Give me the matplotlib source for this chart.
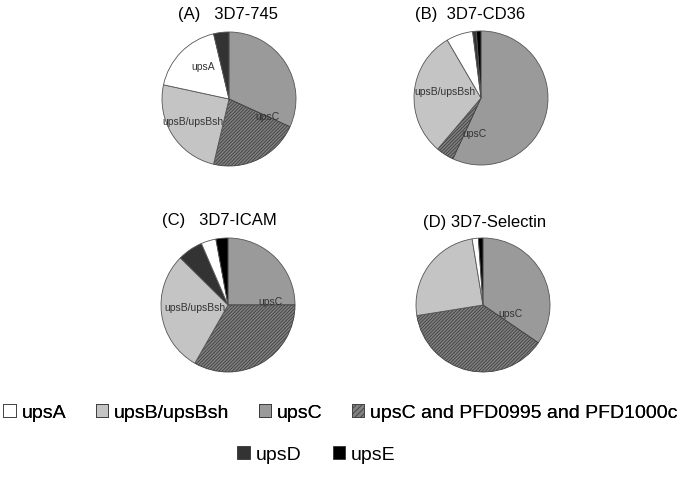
import numpy as np
import matplotlib.pyplot as plt
from matplotlib.patches import Patch

plt.rcParams['font.family'] = ['Liberation Sans', 'DejaVu Sans']
plt.rcParams['hatch.linewidth'] = 0.6

categories = ['upsA', 'upsB/upsBsh', 'upsC', 'upsC and PFD0995 and PFD1000c', 'upsD', 'upsE']
cat_colors = ['#ffffff', '#c4c4c4', '#9a9a9a', '#808080', '#333333', '#000000']

titles = ['(A)   3D7-745', '(B)  3D7-CD36', '(C)   3D7-ICAM', '(D) 3D7-Selectin']

# percentages per category (same order as categories)
vals_A = [17.9, 24.7, 31.8, 21.9, 3.7, 0.0]
vals_B = [6.4, 30.4, 56.9, 4.3, 0.9, 1.1]
vals_C = [3.6, 29.2, 25.0, 33.3, 6.1, 2.9]
vals_D = [1.5, 24.9, 34.5, 37.9, 0.0, 1.1]

# clockwise drawing order (index into categories), starting at 12 o'clock
order_A = [2, 3, 1, 0, 4, 5]
order_B = [2, 3, 1, 0, 4, 5]
order_C = [2, 3, 1, 4, 0, 5]
order_D = [2, 3, 1, 0, 4, 5]

# in-slice labels: (text, compass angle, radius)
labels_A = [('upsA', 321, 0.62), ('upsB/upsBsh', 237, 0.64), ('upsC', 115, 0.64)]
labels_B = [('upsB/upsBsh', 280, 0.55), ('upsC', 191, 0.54)]
labels_C = [('upsC', 86, 0.64), ('upsB/upsBsh', 265, 0.50)]
labels_D = [('upsC', 108, 0.43)]

W, H = 685, 486
centers = [(229, 99), (481, 98), (228, 305), (483, 305)]
title_pos = [(228, 15), (470, 15), (219, 220), (485, 222)]
R = 67

fig = plt.figure(figsize=(6.85, 4.86), dpi=100)

pies = [(vals_A, order_A, labels_A), (vals_B, order_B, labels_B),
        (vals_C, order_C, labels_C), (vals_D, order_D, labels_D)]

for (vals, order, labs), (cx, cy), (tx, ty), title in zip(pies, centers, title_pos, titles):
    half = R * 1.25
    ax = fig.add_axes([(cx - half) / W, 1 - (cy + half) / H, 2 * half / W, 2 * half / H])
    idx = [i for i in order if vals[i] > 0]
    wedges, _ = ax.pie([vals[i] for i in idx], colors=[cat_colors[i] for i in idx],
                       startangle=90, counterclock=False,
                       wedgeprops=dict(edgecolor='#555555', linewidth=0.6))
    for w, i in zip(wedges, idx):
        if i == 3:
            w.set_hatch('//////////')
            w.set_edgecolor('#404040')
    ax.set_xlim(-1.25, 1.25)
    ax.set_ylim(-1.25, 1.25)
    for text, ang, r in labs:
        t = np.deg2rad(ang)
        ax.text(r * np.sin(t), r * np.cos(t), text, ha='center', va='center',
                fontsize=7.5, color='#333333')
    fig.text(tx / W, 1 - ty / H, title, ha='center', va='center', fontsize=12)

handles = []
for i, c in enumerate(categories):
    if i == 3:
        handles.append(Patch(facecolor=cat_colors[i], edgecolor='#404040', hatch='//////', linewidth=0.6))
    else:
        handles.append(Patch(facecolor=cat_colors[i], edgecolor='#333333', linewidth=0.6))

leg1 = fig.legend(handles[:4], categories[:4], loc='center', bbox_to_anchor=(0.497, 1 - 413 / H),
                  ncol=4, frameon=False, fontsize=14, handlelength=0.65, handleheight=0.65,
                  handletextpad=0.3, columnspacing=1.5, borderpad=0.1)
fig.legend(handles[4:], categories[4:], loc='center', bbox_to_anchor=(0.462, 1 - 455 / H),
           ncol=2, frameon=False, fontsize=14, handlelength=0.65, handleheight=0.65,
           handletextpad=0.3, columnspacing=1.6, borderpad=0.1)
fig.add_artist(leg1)

fig.savefig('out.png', dpi=100)
